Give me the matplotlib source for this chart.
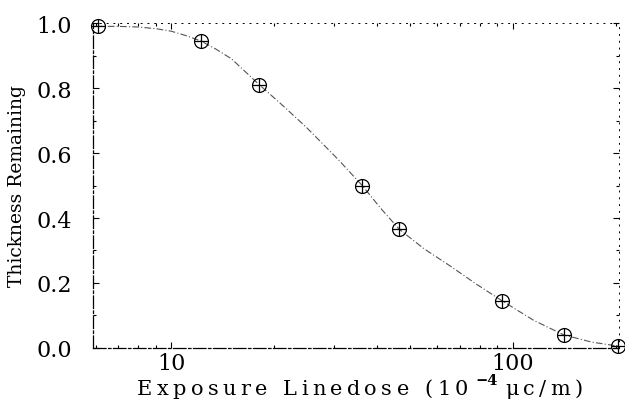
import matplotlib
matplotlib.use("Agg")
import matplotlib.pyplot as plt
from matplotlib.ticker import FixedLocator, NullFormatter, LogLocator

plt.rcParams["font.family"] = ["DejaVu Serif"]
plt.rcParams["mathtext.fontset"] = "dejavuserif"

# measured points (dose in 1e-4 uC/m, normalised thickness)
dose = [6.1, 12.2, 18.1, 36.2, 46.5, 93, 141, 203]
thickness = [0.99, 0.945, 0.81, 0.50, 0.365, 0.145, 0.04, 0.005]

# fitted curve
fit_dose = [6.0, 7.0, 8.0, 9.0, 10, 11, 12.2, 13.5, 15, 18.1, 21, 24.8, 30.8,
            36.2, 41, 46.5, 55, 66, 78, 93, 115, 141, 170, 205]
fit_thick = [0.99, 0.99, 0.988, 0.983, 0.975, 0.962, 0.945, 0.92, 0.89, 0.81,
             0.75, 0.68, 0.58, 0.50, 0.43, 0.365, 0.305, 0.25, 0.197, 0.145,
             0.085, 0.04, 0.018, 0.005]

x_ticks = [10, 100]
x_ticklabels = ["10", "100"]
y_ticks = [0.0, 0.2, 0.4, 0.6, 0.8, 1.0]

W, H = 625, 402
fig = plt.figure(figsize=(W / 100, H / 100), dpi=100)
ax = fig.add_axes([0.149, 0.132, 0.842, 0.808])

ax.plot(fit_dose, fit_thick, color="#555555", linestyle=(0, (6, 2, 1, 2)),
        linewidth=0.8, clip_on=False)
ax.plot(dose, thickness, linestyle="none", marker="o", markersize=10,
        markerfacecolor="none", markeredgecolor="black", markeredgewidth=0.9,
        clip_on=False)
ax.plot(dose, thickness, linestyle="none", marker="+", markersize=10,
        color="black", markeredgewidth=0.9, clip_on=False)

ax.set_xscale("log")
ax.set_xlim(5.9, 205)
ax.set_ylim(0.0, 1.0)

ax.xaxis.set_major_locator(FixedLocator(x_ticks))
ax.set_xticklabels(x_ticklabels)
ax.xaxis.set_minor_locator(LogLocator(base=10, subs=range(2, 10)))
ax.xaxis.set_minor_formatter(NullFormatter())
ax.set_yticks(y_ticks)
ax.set_yticklabels([f"{v:.1f}" for v in y_ticks])
ax.yaxis.set_minor_locator(FixedLocator([0.1, 0.3, 0.5, 0.7, 0.9]))

ax.tick_params(axis="both", which="both", direction="in", top=True, right=True,
               length=4, width=0.8, labelsize=16, colors="black")
ax.tick_params(axis="both", which="minor", length=2.5)
ax.tick_params(axis="x", which="major", pad=3)
ax.tick_params(axis="y", which="major", pad=15)

for side in ["left", "bottom"]:
    ax.spines[side].set_linewidth(0.9)
    ax.spines[side].set_linestyle((0, (10, 2, 2, 2)))
for side in ["top", "right"]:
    ax.spines[side].set_linewidth(0.7)
    ax.spines[side].set_linestyle((0, (1, 6)))

ax.set_ylabel("Thickness Remaining", fontsize=13.5, labelpad=8)


def spaced_text(x_px, y_px, s, size, track, **kw):
    # plotter-style lettering: each glyph placed with extra tracking
    renderer = fig.canvas.get_renderer()
    x = x_px
    for ch in s:
        if ch == " ":
            x += size * 0.45 + track
            continue
        t = fig.text(x / W, 1 - y_px / H, ch, fontsize=size, ha="left",
                     va="baseline", **kw)
        x += t.get_window_extent(renderer).width + track
    return x


spaced_text(137, 395, "Exposure Linedose (10", 15, 4.4)
fig.text(475 / W, 1 - 385 / H, "\u22124", fontsize=10.5, fontweight="bold",
         ha="left", va="baseline")
spaced_text(505, 395, "\u03bcc/m)", 15, 4.4)

fig.savefig("out.png", dpi=100)
